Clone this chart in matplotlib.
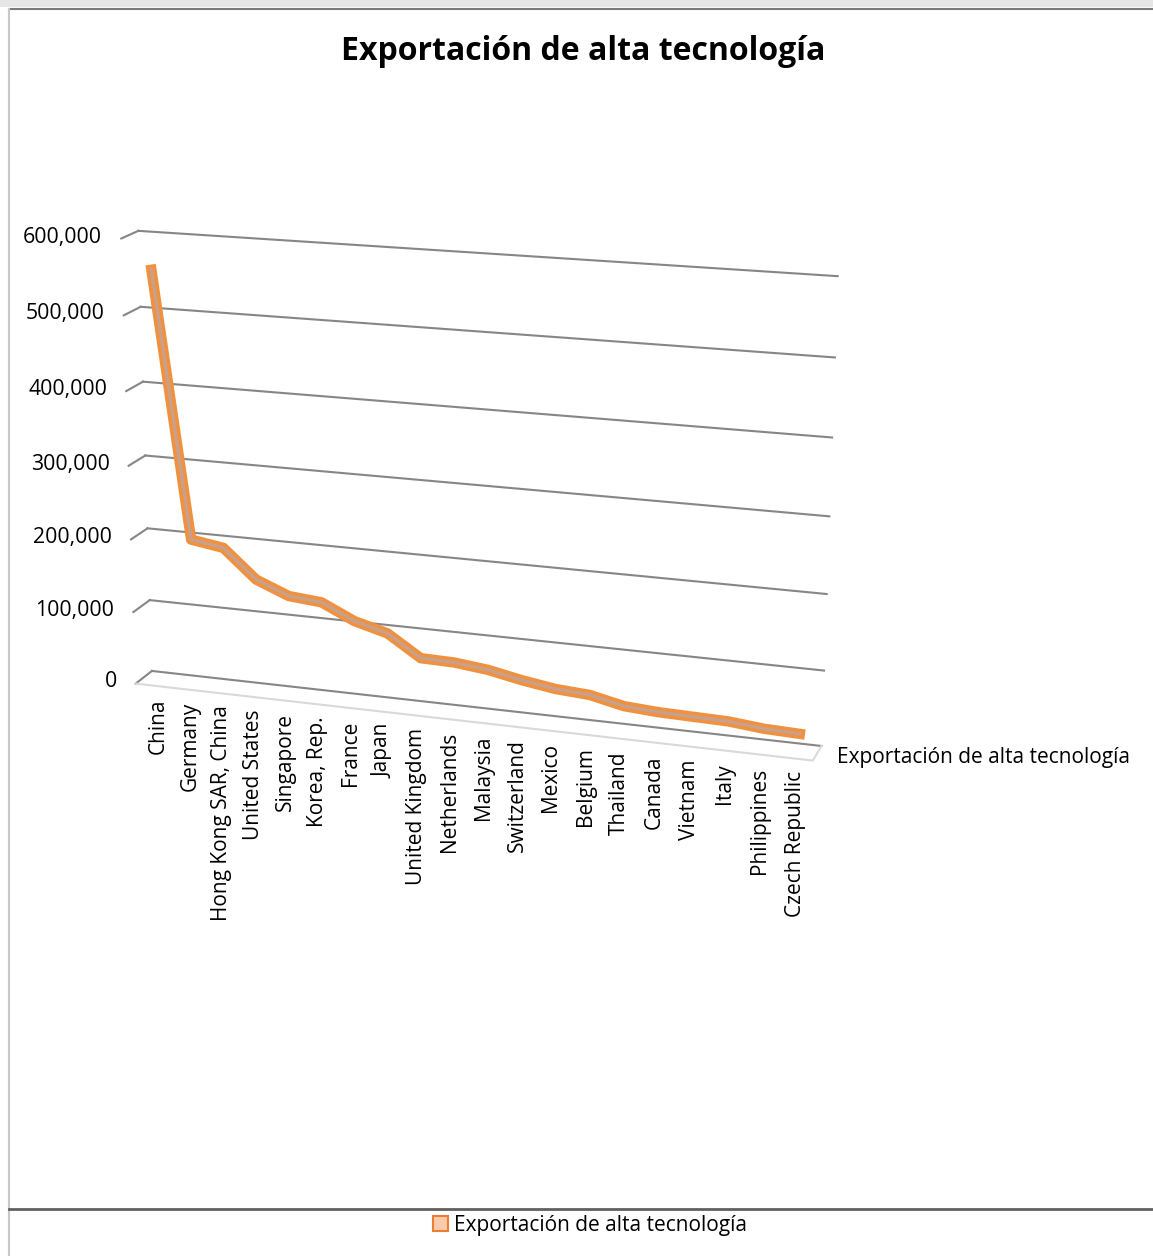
import numpy as np
import matplotlib.pyplot as plt
from matplotlib.axes import Axes
from matplotlib.lines import Line2D
from matplotlib.patches import Patch, Rectangle
from mpl_toolkits.mplot3d import proj3d

# data
countries = ['China', 'Germany', 'Hong Kong SAR, China', 'United States', 'Singapore',
             'Korea, Rep.', 'France', 'Japan', 'United Kingdom', 'Netherlands',
             'Malaysia', 'Switzerland', 'Mexico', 'Belgium', 'Thailand', 'Canada',
             'Vietnam', 'Italy', 'Philippines', 'Czech Republic']
exports = [556000, 199000, 192000, 153000, 135000, 131000, 110000, 98000, 69000, 68000,
           63000, 54000, 47000, 44000, 34000, 31000, 30000, 29000, 24500, 23000]
z_ticks = [0, 100000, 200000, 300000, 400000, 500000, 600000]
series_name = 'Exportación de alta tecnología'
title = 'Exportación de alta tecnología'

plt.rcParams['font.family'] = ['Open Sans', 'DejaVu Sans']

W, H = 1153, 1256
fig = plt.figure(figsize=(W / 100, H / 100), dpi=100)

# chart frame
fig.patches.append(Rectangle((0, 1 - 7 / H), 1, 7 / H, transform=fig.transFigure,
                             facecolor='#E6E6E6', edgecolor='none'))
fig.add_artist(Line2D([9 / W, 1], [1 - 8.5 / H] * 2, color='#7A7A7A', lw=1.5))
fig.add_artist(Line2D([9 / W] * 2, [0, 1 - 8.5 / H], color='#C8C8C8', lw=1.5))
fig.add_artist(Line2D([9 / W, 1], [1 - 1209 / H] * 2, color='#606060', lw=2))

# 3D plot area (Excel style 3D line)
x_lo, x_hi = -0.63, 19.5
ax = fig.add_axes([0.0373, 0.2707, 0.719, 0.660], projection='3d')
ax.set_box_aspect((722, 42, 475), zoom=1.014)
ax.view_init(elev=16, azim=-72)
ax.set_proj_type('persp', focal_length=0.67)
ax.set_axis_off()
ax.computed_zorder = False
ax.set_xlim(x_lo, x_hi)
ax.set_ylim(0, 1)
ax.set_zlim(0, 600000)


def label(xs, ys, zs, texts, **kw):
    # flat, screen-aligned text at projected 3D points
    px, py, _ = proj3d.proj_transform(np.asarray(xs, float), np.asarray(ys, float),
                                      np.asarray(zs, float), ax.get_proj())
    for a, b, s in zip(px, py, texts):
        Axes.text(ax, a, b, s, **kw)


grid_c = '#868686'
for z in z_ticks:
    ax.plot([x_lo, x_hi], [1, 1], [z, z], color=grid_c, lw=1.5, zorder=1)
    ax.plot([x_lo, x_lo], [0, 1], [z, z], color=grid_c, lw=1.5, zorder=1)
label([x_lo - 0.6] * len(z_ticks), [0] * len(z_ticks), z_ticks,
      [f'{z:,}' for z in z_ticks], ha='right', va='center', fontsize=15.3)
# floor front edge
ax.plot([x_lo, x_hi, x_hi], [0, 0, 1], [0, 0, 0], color='#D9D9D9', lw=1.5, zorder=1)

# the series as a ribbon
x = np.arange(len(countries))
depth = np.full(len(x), 0.5)
ax.plot(x, depth, exports, color='#F0913F', lw=7.5, solid_joinstyle='round', zorder=3)
ax.plot(x, depth, exports, color='#C9A08A', lw=2.4, solid_joinstyle='round', zorder=4)

# category labels: vertical text under the front edge of the floor
label(x, [0.15] * len(x), [-20000] * len(x), countries,
      rotation=90, ha='center', va='top', fontsize=15)
label([x_hi + 0.55], [0.5], [-3000], [series_name], ha='left', va='center', fontsize=15)

fig.text(583 / W, 1 - 51 / H, title, ha='center', va='center', fontsize=23,
         fontweight='bold')

fig.legend(handles=[Patch(facecolor='#F8CBAD', edgecolor='#ED7D31', lw=1.5,
                          label=series_name)],
           loc='center', bbox_to_anchor=(590 / W, 1 - 1225 / H), frameon=False,
           fontsize=15, handlelength=0.7, handleheight=0.7, handletextpad=0.3)

fig.savefig('out.png', dpi=100)
